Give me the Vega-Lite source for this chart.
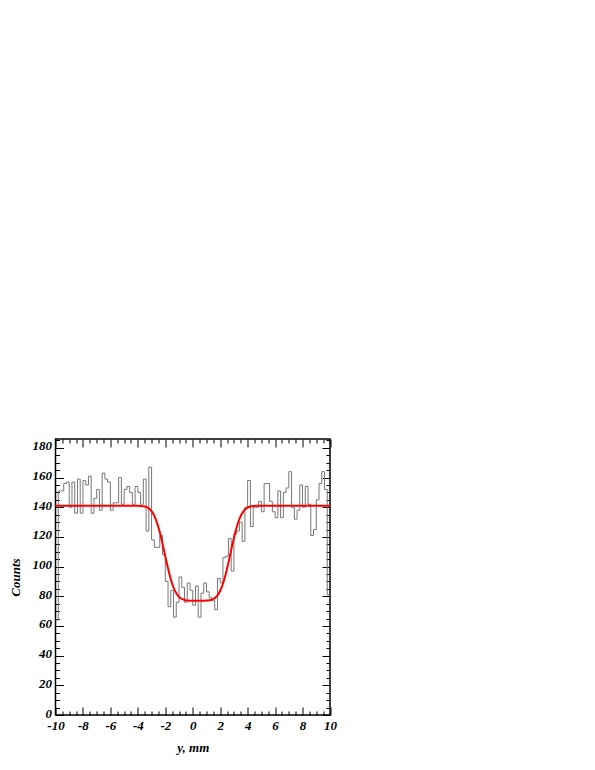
{
  "$schema": "https://vega.github.io/schema/vega-lite/v6.json",
  "autosize": "none",
  "width": 274.5,
  "height": 276,
  "padding": {"left": 55.5, "top": 439, "right": 265, "bottom": 55},
  "background": "white",
  "config": {
    "view": {"stroke": "#000", "strokeWidth": 1.5},
    "axis": {
      "domain": false,
      "grid": false,
      "tickColor": "#000",
      "tickWidth": 1,
      "labelFont": "Liberation Serif",
      "labelFontStyle": "italic",
      "labelFontWeight": "bold",
      "labelFontSize": 13,
      "labelColor": "#000",
      "labelOverlap": false,
      "labelFlush": false,
      "titleFont": "Liberation Serif",
      "titleFontStyle": "italic",
      "titleFontWeight": "bold",
      "titleFontSize": 13,
      "titleColor": "#000"
    }
  },
  "datasets": {
    "hist": [
      {"lo": -10.0, "hi": -9.8, "n": 64}, {"lo": -9.8, "hi": -9.6, "n": 151}, {"lo": -9.6, "hi": -9.4, "n": 151}, {"lo": -9.4, "hi": -9.2, "n": 156}, {"lo": -9.2, "hi": -9.0, "n": 157},
      {"lo": -9.0, "hi": -8.8, "n": 140}, {"lo": -8.8, "hi": -8.6, "n": 157}, {"lo": -8.6, "hi": -8.4, "n": 136}, {"lo": -8.4, "hi": -8.2, "n": 159}, {"lo": -8.2, "hi": -8.0, "n": 136},
      {"lo": -8.0, "hi": -7.8, "n": 158}, {"lo": -7.8, "hi": -7.6, "n": 155}, {"lo": -7.6, "hi": -7.4, "n": 161}, {"lo": -7.4, "hi": -7.2, "n": 136}, {"lo": -7.2, "hi": -7.0, "n": 146},
      {"lo": -7.0, "hi": -6.8, "n": 152}, {"lo": -6.8, "hi": -6.6, "n": 138}, {"lo": -6.6, "hi": -6.4, "n": 163}, {"lo": -6.4, "hi": -6.2, "n": 159}, {"lo": -6.2, "hi": -6.0, "n": 157},
      {"lo": -6.0, "hi": -5.8, "n": 138}, {"lo": -5.8, "hi": -5.6, "n": 143}, {"lo": -5.6, "hi": -5.4, "n": 143}, {"lo": -5.4, "hi": -5.2, "n": 160}, {"lo": -5.2, "hi": -5.0, "n": 142},
      {"lo": -5.0, "hi": -4.8, "n": 152}, {"lo": -4.8, "hi": -4.6, "n": 154}, {"lo": -4.6, "hi": -4.4, "n": 150}, {"lo": -4.4, "hi": -4.2, "n": 142}, {"lo": -4.2, "hi": -4.0, "n": 154},
      {"lo": -4.0, "hi": -3.8, "n": 150}, {"lo": -3.8, "hi": -3.6, "n": 142}, {"lo": -3.6, "hi": -3.4, "n": 159}, {"lo": -3.4, "hi": -3.2, "n": 124}, {"lo": -3.2, "hi": -3.0, "n": 167},
      {"lo": -3.0, "hi": -2.8, "n": 118}, {"lo": -2.8, "hi": -2.6, "n": 113}, {"lo": -2.6, "hi": -2.4, "n": 113}, {"lo": -2.4, "hi": -2.2, "n": 121}, {"lo": -2.2, "hi": -2.0, "n": 108},
      {"lo": -2.0, "hi": -1.8, "n": 90}, {"lo": -1.8, "hi": -1.6, "n": 73}, {"lo": -1.6, "hi": -1.4, "n": 84}, {"lo": -1.4, "hi": -1.2, "n": 66}, {"lo": -1.2, "hi": -1.0, "n": 76},
      {"lo": -1.0, "hi": -0.8, "n": 93}, {"lo": -0.8, "hi": -0.6, "n": 86}, {"lo": -0.6, "hi": -0.4, "n": 76}, {"lo": -0.4, "hi": -0.2, "n": 89}, {"lo": -0.2, "hi": 0.0, "n": 84},
      {"lo": 0.0, "hi": 0.2, "n": 74}, {"lo": 0.2, "hi": 0.4, "n": 87}, {"lo": 0.4, "hi": 0.6, "n": 66}, {"lo": 0.6, "hi": 0.8, "n": 82}, {"lo": 0.8, "hi": 1.0, "n": 89},
      {"lo": 1.0, "hi": 1.2, "n": 83}, {"lo": 1.2, "hi": 1.4, "n": 79}, {"lo": 1.4, "hi": 1.6, "n": 77}, {"lo": 1.6, "hi": 1.8, "n": 71}, {"lo": 1.8, "hi": 2.0, "n": 92},
      {"lo": 2.0, "hi": 2.2, "n": 89}, {"lo": 2.2, "hi": 2.4, "n": 106}, {"lo": 2.4, "hi": 2.6, "n": 107}, {"lo": 2.6, "hi": 2.8, "n": 119}, {"lo": 2.8, "hi": 3.0, "n": 97},
      {"lo": 3.0, "hi": 3.2, "n": 122}, {"lo": 3.2, "hi": 3.4, "n": 124}, {"lo": 3.4, "hi": 3.6, "n": 130}, {"lo": 3.6, "hi": 3.8, "n": 117}, {"lo": 3.8, "hi": 4.0, "n": 140},
      {"lo": 4.0, "hi": 4.2, "n": 158}, {"lo": 4.2, "hi": 4.4, "n": 127}, {"lo": 4.4, "hi": 4.6, "n": 140}, {"lo": 4.6, "hi": 4.8, "n": 140}, {"lo": 4.8, "hi": 5.0, "n": 144},
      {"lo": 5.0, "hi": 5.2, "n": 137}, {"lo": 5.2, "hi": 5.4, "n": 156}, {"lo": 5.4, "hi": 5.6, "n": 156}, {"lo": 5.6, "hi": 5.8, "n": 144}, {"lo": 5.8, "hi": 6.0, "n": 137},
      {"lo": 6.0, "hi": 6.2, "n": 133}, {"lo": 6.2, "hi": 6.4, "n": 151}, {"lo": 6.4, "hi": 6.6, "n": 133}, {"lo": 6.6, "hi": 6.8, "n": 150}, {"lo": 6.8, "hi": 7.0, "n": 153},
      {"lo": 7.0, "hi": 7.2, "n": 164}, {"lo": 7.2, "hi": 7.4, "n": 140}, {"lo": 7.4, "hi": 7.6, "n": 132}, {"lo": 7.6, "hi": 7.8, "n": 138}, {"lo": 7.8, "hi": 8.0, "n": 155},
      {"lo": 8.0, "hi": 8.2, "n": 140}, {"lo": 8.2, "hi": 8.4, "n": 154}, {"lo": 8.4, "hi": 8.6, "n": 142}, {"lo": 8.6, "hi": 8.8, "n": 121}, {"lo": 8.8, "hi": 9.0, "n": 125},
      {"lo": 9.0, "hi": 9.2, "n": 145}, {"lo": 9.2, "hi": 9.4, "n": 156}, {"lo": 9.4, "hi": 9.6, "n": 164}, {"lo": 9.6, "hi": 9.8, "n": 152}, {"lo": 9.8, "hi": 10.0, "n": 81}
    ],
    "fit": [
      {"x": -10, "f": 141}, {"x": -8, "f": 141}, {"x": -6, "f": 141}, {"x": -5, "f": 141}, {"x": -4.4, "f": 140.99},
      {"x": -4.0, "f": 140.96}, {"x": -3.8, "f": 140.89}, {"x": -3.6, "f": 140.69}, {"x": -3.4, "f": 140.22}, {"x": -3.2, "f": 139.23},
      {"x": -3.0, "f": 137.37}, {"x": -2.8, "f": 134.24}, {"x": -2.6, "f": 129.51}, {"x": -2.4, "f": 123.09}, {"x": -2.2, "f": 115.32},
      {"x": -2.0, "f": 106.88}, {"x": -1.8, "f": 98.66}, {"x": -1.6, "f": 91.5}, {"x": -1.4, "f": 85.92}, {"x": -1.2, "f": 82.01},
      {"x": -1.0, "f": 79.57}, {"x": -0.8, "f": 78.19}, {"x": -0.6, "f": 77.5}, {"x": -0.4, "f": 77.19}, {"x": -0.2, "f": 77.06},
      {"x": 0.0, "f": 77.02}, {"x": 0.4, "f": 77.0}, {"x": 0.8, "f": 77.04}, {"x": 1.0, "f": 77.11}, {"x": 1.2, "f": 77.31},
      {"x": 1.4, "f": 77.78}, {"x": 1.6, "f": 78.77}, {"x": 1.8, "f": 80.63}, {"x": 2.0, "f": 83.76}, {"x": 2.2, "f": 88.49},
      {"x": 2.4, "f": 94.91}, {"x": 2.6, "f": 102.68}, {"x": 2.8, "f": 111.12}, {"x": 3.0, "f": 119.34}, {"x": 3.2, "f": 126.5},
      {"x": 3.4, "f": 132.08}, {"x": 3.6, "f": 135.99}, {"x": 3.8, "f": 138.43}, {"x": 4.0, "f": 139.81}, {"x": 4.2, "f": 140.5},
      {"x": 4.4, "f": 140.81}, {"x": 4.6, "f": 140.94}, {"x": 5.0, "f": 141}, {"x": 6, "f": 141}, {"x": 8, "f": 141}, {"x": 10, "f": 141}
    ]
  },
  "layer": [
    {
      "data": {"name": "hist"},
      "mark": {"type": "rule", "color": "#777", "strokeWidth": 1},
      "encoding": {
        "x": {
          "field": "lo", "type": "quantitative",
          "scale": {"domain": [-10, 10], "nice": false, "zero": false},
          "axis": {
            "orient": "bottom",
            "title": "y, mm",
            "titlePadding": 5,
            "values": [-10, -9.5, -9, -8.5, -8, -7.5, -7, -6.5, -6, -5.5, -5, -4.5, -4, -3.5, -3, -2.5, -2, -1.5, -1, -0.5, 0, 0.5, 1, 1.5, 2, 2.5, 3, 3.5, 4, 4.5, 5, 5.5, 6, 6.5, 7, 7.5, 8, 8.5, 9, 9.5, 10],
            "labelExpr": "datum.value % 2 === 0 ? '' + datum.value : ''",
            "tickSize": {"condition": {"test": "datum.value % 2 === 0", "value": -8}, "value": -4},
            "labelPadding": 12
          }
        },
        "x2": {"field": "hi"},
        "y": {
          "field": "n", "type": "quantitative",
          "scale": {"domain": [0, 186], "nice": false},
          "axis": {
            "orient": "left",
            "title": "Counts",
            "titlePadding": 10,
            "values": [0, 5, 10, 15, 20, 25, 30, 35, 40, 45, 50, 55, 60, 65, 70, 75, 80, 85, 90, 95, 100, 105, 110, 115, 120, 125, 130, 135, 140, 145, 150, 155, 160, 165, 170, 175, 180, 185],
            "labelExpr": "datum.value % 20 === 0 ? '' + datum.value : ''",
            "tickSize": {"condition": {"test": "datum.value % 20 === 0", "value": -8}, "value": -4},
            "labelPadding": 12,
            "labelOffset": -2
          }
        }
      }
    },
    {
      "data": {"name": "hist"},
      "transform": [
        {"window": [{"op": "lag", "field": "n", "as": "prev"}], "sort": [{"field": "lo", "order": "ascending"}]},
        {"filter": "datum.prev != null"}
      ],
      "mark": {"type": "rule", "color": "#777", "strokeWidth": 1},
      "encoding": {
        "x": {
          "field": "lo", "type": "quantitative",
          "scale": {"domain": [-10, 10], "nice": false, "zero": false},
          "axis": {
            "orient": "top",
            "title": null,
            "labels": false,
            "values": [-10, -9.5, -9, -8.5, -8, -7.5, -7, -6.5, -6, -5.5, -5, -4.5, -4, -3.5, -3, -2.5, -2, -1.5, -1, -0.5, 0, 0.5, 1, 1.5, 2, 2.5, 3, 3.5, 4, 4.5, 5, 5.5, 6, 6.5, 7, 7.5, 8, 8.5, 9, 9.5, 10],
            "tickSize": {"condition": {"test": "datum.value % 2 === 0", "value": -8}, "value": -4}
          }
        },
        "y": {
          "field": "n", "type": "quantitative",
          "scale": {"domain": [0, 186], "nice": false},
          "axis": {
            "orient": "right",
            "title": null,
            "labels": false,
            "values": [0, 5, 10, 15, 20, 25, 30, 35, 40, 45, 50, 55, 60, 65, 70, 75, 80, 85, 90, 95, 100, 105, 110, 115, 120, 125, 130, 135, 140, 145, 150, 155, 160, 165, 170, 175, 180, 185],
            "tickSize": {"condition": {"test": "datum.value % 20 === 0", "value": -8}, "value": -4}
          }
        },
        "y2": {"field": "prev"}
      }
    },
    {
      "data": {"name": "fit"},
      "mark": {"type": "line", "color": "#ff0000", "strokeWidth": 2, "interpolate": "monotone"},
      "encoding": {
        "x": {"field": "x", "type": "quantitative", "axis": null},
        "y": {"field": "f", "type": "quantitative", "axis": null}
      }
    }
  ],
  "resolve": {"axis": {"x": "independent", "y": "independent"}}
}
